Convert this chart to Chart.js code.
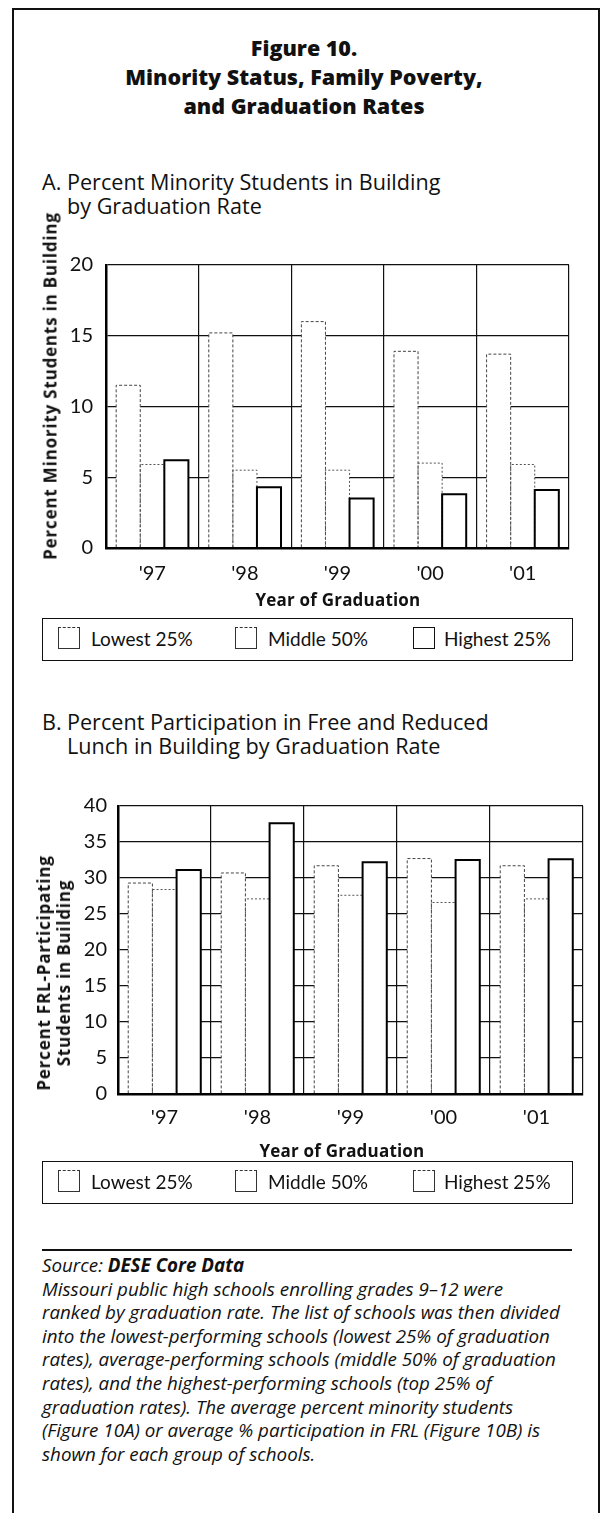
<!DOCTYPE html>
<html>
<head>
<meta charset="utf-8">
<script src="https://cdn.jsdelivr.net/npm/chart.js@4.4.1/dist/chart.umd.min.js"></script>
<style>
  body { margin: 0; background: #fff; color: #111; font-family: Lato, 'Open Sans', sans-serif; }
  #page { position: relative; width: 603px; height: 1513px; overflow: hidden; }
  .abs { position: absolute; }
  #frame { left: 12px; top: 8px; width: 584px; height: 1520px; border: 2px solid #111; border-bottom: none; }
  #title { left: 0; top: 33px; width: 608px; text-align: center; font-family: 'Open Sans', sans-serif; font-weight: 800; font-size: 21.5px; line-height: 29px; }
  .sect { left: 42px; font-family: 'Open Sans', sans-serif; font-size: 21.6px; line-height: 24px; white-space: nowrap; }
  .sect .k { display: inline-block; width: 25px; }
  .sect .ind { padding-left: 25px; }
  .ytitle { font-family: 'Open Sans', sans-serif; font-weight: 700; font-size: 17px; letter-spacing: 0.8px; white-space: nowrap; text-align: center; transform: translate(-50%, -50%) rotate(-90deg); }
  .xtitle { font-family: 'Open Sans', sans-serif; font-weight: 700; font-size: 17px; letter-spacing: 0.2px; white-space: nowrap; transform: translate(-50%, -50%); }
  .legend { left: 42px; width: 529px; height: 41px; border: 1.5px solid #111; font-size: 19px; }
  .legend .sq { position: absolute; top: 8px; width: 22px; height: 22px; box-sizing: border-box; border: 1px solid #333; }
  .legend .lab { position: absolute; top: 8px; line-height: 24px; white-space: nowrap; }
  #rule { left: 42px; top: 1249px; width: 530px; height: 0; border-top: 2px solid #111; }
  #note { left: 42px; top: 1254px; width: 550px; font-family: 'Open Sans', sans-serif; font-style: italic; font-size: 18.8px; line-height: 23.6px; white-space: nowrap; }
  canvas { position: absolute; left: 0; }
</style>
</head>
<body>
<div id="page">
  <div id="frame" class="abs"></div>
  <div id="title" class="abs">Figure 10.<br>Minority Status, Family Poverty,<br>and Graduation Rates</div>

  <div class="abs sect" style="top:170px"><div><span class="k">A.</span>Percent Minority Students in Building</div><div class="ind">by Graduation Rate</div></div>
  <canvas id="chartA" width="603" height="350" style="top:240px"></canvas>
  <div class="abs ytitle" style="left:50px;top:386px">Percent Minority Students in Building</div>
  <div class="abs xtitle" style="left:338px;top:599px">Year of Graduation</div>
  <div class="abs legend" style="top:618px">
    <div class="sq" style="left:15px;border-top-style:dashed"></div><div class="lab" style="left:48px">Lowest 25%</div>
    <div class="sq" style="left:192px;border-top-style:dashed"></div><div class="lab" style="left:225px">Middle 50%</div>
    <div class="sq" style="left:370px;border:1.5px solid #111"></div><div class="lab" style="left:401px">Highest 25%</div>
  </div>

  <div class="abs sect" style="top:710px"><div><span class="k">B.</span>Percent Participation in Free and Reduced</div><div class="ind">Lunch in Building by Graduation Rate</div></div>
  <canvas id="chartB" width="603" height="360" style="top:780px"></canvas>
  <div class="abs ytitle" style="left:54px;top:973px;line-height:20px">Percent FRL-Participating<br>Students in Building</div>
  <div class="abs xtitle" style="left:342px;top:1150px">Year of Graduation</div>
  <div class="abs legend" style="top:1161px">
    <div class="sq" style="left:15px;border-top-style:dashed"></div><div class="lab" style="left:48px">Lowest 25%</div>
    <div class="sq" style="left:192px;border-top-style:dashed"></div><div class="lab" style="left:225px">Middle 50%</div>
    <div class="sq" style="left:370px;border-top-style:dashed"></div><div class="lab" style="left:401px">Highest 25%</div>
  </div>

  <div id="rule" class="abs"></div>
  <div id="note" class="abs">
    <div>Source: <span style="font-weight:700">DESE Core Data</span></div>
    <div>Missouri public high schools enrolling grades 9–12 were</div>
    <div>ranked by graduation rate. The list of schools was then divided</div>
    <div>into the lowest-performing schools (lowest 25% of graduation</div>
    <div>rates), average-performing schools (middle 50% of graduation</div>
    <div>rates), and the highest-performing schools (top 25% of</div>
    <div>graduation rates). The average percent minority students</div>
    <div>(Figure 10A) or average % participation in FRL (Figure 10B) is</div>
    <div>shown for each group of schools.</div>
  </div>
</div>

<script>
// dados
const years = ["'97", "'98", "'99", "'00", "'01"];
const groups = ['Lowest 25%', 'Middle 50%', 'Highest 25%'];

const minorityLowest = [11.5, 15.2, 16.0, 13.9, 13.7];
const minorityMiddle = [5.9, 5.5, 5.5, 6.0, 5.9];
const minorityHighest = [6.2, 4.3, 3.5, 3.8, 4.1];

const frlLowest = [29.3, 30.7, 31.7, 32.7, 31.7];
const frlMiddle = [28.4, 27.1, 27.6, 26.6, 27.1];
const frlHighest = [31.1, 37.6, 32.2, 32.5, 32.6];

const minorityMax = 20;
const frlMax = 40;
const tickStep = 5;

Chart.defaults.font.family = 'Lato, "Open Sans", sans-serif';
Chart.defaults.color = '#111';

// traço de cada grupo (contorno das barras brancas)
const outlineStyles = [
    { color: '#444', width: 1, dash: [3, 2] },
    { color: '#555', width: 1, dash: [2, 2] },
    { color: '#000', width: 2, dash: [] }
];

// desenha o contorno das barras por cima, com tracejado
const outlinePlugin = {
    id: 'outline',
    afterDatasetsDraw(chart) {
        const ctx = chart.ctx;
        chart.data.datasets.forEach((ds, i) => {
            const st = outlineStyles[i];
            const meta = chart.getDatasetMeta(i);
            ctx.save();
            ctx.strokeStyle = st.color;
            ctx.lineWidth = st.width;
            ctx.setLineDash(st.dash);
            meta.data.forEach(bar => {
                const p = bar.getProps(['x', 'y', 'base', 'width'], true);
                const l = p.x - p.width / 2;
                const r = p.x + p.width / 2;
                ctx.beginPath();
                ctx.moveTo(l, p.base);
                ctx.lineTo(l, p.y);
                ctx.lineTo(r, p.y);
                ctx.lineTo(r, p.base);
                ctx.stroke();
            });
            ctx.restore();
        });
    }
};

function makeChart(id, series, max, opts) {
    const ctx = document.getElementById(id).getContext('2d');
    return new Chart(ctx, {
        type: 'bar',
        data: {
            labels: years,
            datasets: series.map((values, i) => ({
                label: groups[i],
                data: values,
                backgroundColor: '#fff',
                borderWidth: 0,
                categoryPercentage: 0.78,
                barPercentage: 1.0
            }))
        },
        options: {
            responsive: false,
            animation: false,
            devicePixelRatio: 1,
            layout: { padding: { top: opts.top, right: opts.right, left: 0, bottom: 0 } },
            plugins: { legend: { display: false }, tooltip: { enabled: false } },
            scales: {
                x: {
                    grid: { color: '#111', lineWidth: 1.2, drawTicks: false, offset: true },
                    border: { display: true, color: '#000', width: 2.5, z: 1 },
                    ticks: { font: { size: 20 }, padding: opts.xPad, color: '#111' },
                    afterFit: s => { s.height = opts.xHeight; }
                },
                y: {
                    min: 0,
                    max: max,
                    grid: { color: '#111', lineWidth: 1.3, drawTicks: false },
                    border: { display: true, color: '#000', width: 2.5, z: 1 },
                    ticks: { stepSize: tickStep, font: { size: 20 }, padding: opts.yPad, color: '#111' },
                    afterFit: s => { s.width = opts.yWidth; }
                }
            }
        },
        plugins: [outlinePlugin]
    });
}

// A: área do gráfico x 106-569, y 261-548
makeChart('chartA', [minorityLowest, minorityMiddle, minorityHighest], minorityMax,
    { top: 21, right: 34, yWidth: 106, xHeight: 42, xPad: 14, yPad: 13 });

// B: área do gráfico x 118-583, y 806-1094
makeChart('chartB', [frlLowest, frlMiddle, frlHighest], frlMax,
    { top: 26, right: 20, yWidth: 118, xHeight: 46, xPad: 12, yPad: 11 });
</script>
</body>
</html>
